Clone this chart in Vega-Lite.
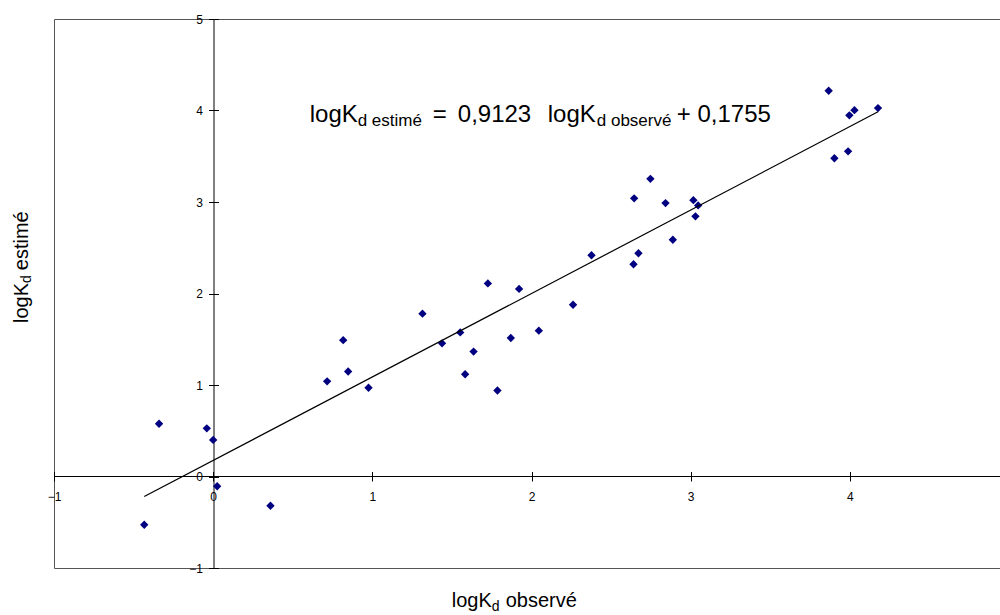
{
  "$schema": "https://vega.github.io/schema/vega-lite/v6.json",
  "width": 955,
  "height": 549,
  "autosize": {"type": "none"},
  "padding": {"left": 54, "top": 19, "right": 0, "bottom": 47},
  "background": "white",
  "config": {
    "view": {"stroke": "#555555", "strokeWidth": 1},
    "font": "Liberation Sans",
    "axis": {"grid": false, "title": null, "labelFont": "Liberation Sans", "labelFontSize": 12, "labelColor": "#000000", "domainColor": "#000000", "tickColor": "#000000", "labelFlush": false, "labelOverlap": false}
  },
  "datasets": {
    "points": [
      {"obs": -0.433, "est": -0.527}, {"obs": -0.34, "est": 0.577}, {"obs": -0.04, "est": 0.526}, {"obs": 0.0, "est": 0.40},
      {"obs": 0.025, "est": -0.106}, {"obs": 0.36, "est": -0.32}, {"obs": 0.716, "est": 1.04}, {"obs": 0.817, "est": 1.49},
      {"obs": 0.848, "est": 1.147}, {"obs": 0.976, "est": 0.97}, {"obs": 1.315, "est": 1.78}, {"obs": 1.438, "est": 1.455},
      {"obs": 1.552, "est": 1.575}, {"obs": 1.636, "est": 1.365}, {"obs": 1.583, "est": 1.118}, {"obs": 1.726, "est": 2.11},
      {"obs": 1.786, "est": 0.94}, {"obs": 1.922, "est": 2.05}, {"obs": 1.87, "est": 1.514}, {"obs": 2.046, "est": 1.594},
      {"obs": 2.261, "est": 1.877}, {"obs": 2.377, "est": 2.418}, {"obs": 2.645, "est": 3.04}, {"obs": 2.747, "est": 3.253},
      {"obs": 2.842, "est": 2.988}, {"obs": 3.017, "est": 3.02}, {"obs": 3.047, "est": 2.963}, {"obs": 3.03, "est": 2.843},
      {"obs": 2.888, "est": 2.588}, {"obs": 2.672, "est": 2.44}, {"obs": 2.641, "est": 2.32}, {"obs": 3.867, "est": 4.216},
      {"obs": 3.997, "est": 3.947}, {"obs": 4.029, "est": 4.004}, {"obs": 4.177, "est": 4.026}, {"obs": 3.989, "est": 3.554},
      {"obs": 3.903, "est": 3.478}
    ],
    "fit": [{"obs": -0.433, "est": -0.2195}, {"obs": 4.177, "est": 3.986}],
    "eqMain": [
      {"obs": 0.607, "est": 3.875, "t": "logK"},
      {"obs": 1.38, "est": 3.875, "t": "="},
      {"obs": 1.537, "est": 3.875, "t": "0,9123"},
      {"obs": 2.102, "est": 3.875, "t": "logK"},
      {"obs": 2.913, "est": 3.875, "t": "+ 0,1755"}
    ],
    "eqSub": [
      {"obs": 0.908, "est": 3.834, "t": "d estimé"},
      {"obs": 2.410, "est": 3.834, "t": "d observé"}
    ],
    "xTitleMain": [
      {"obs": 1.499, "est": -1.4255, "t": "logK"},
      {"obs": 1.838, "est": -1.4255, "t": "observé"}
    ],
    "xTitleSub": [{"obs": 1.750, "est": -1.469, "t": "d"}],
    "yTitleMain": [
      {"obs": -1.164, "est": 1.677, "t": "logK"},
      {"obs": -1.164, "est": 2.255, "t": "estimé"}
    ],
    "yTitleSub": [{"obs": -1.145, "est": 2.114, "t": "d"}]
  },
  "layer": [
    {
      "data": {"name": "points"},
      "mark": {"type": "point", "shape": "diamond", "filled": true, "color": "#000080", "size": 70, "opacity": 1},
      "encoding": {
        "x": {"field": "obs", "type": "quantitative", "scale": {"domain": [-1, 5], "nice": false, "zero": false},
              "axis": {"orient": "bottom", "offset": -92, "values": [-1, 0, 1, 2, 3, 4], "tickSize": 5, "labelPadding": 10}},
        "y": {"field": "est", "type": "quantitative", "scale": {"domain": [-1, 5], "nice": false, "zero": false},
              "axis": {"orient": "left", "offset": -159.5, "values": [-1, 0, 1, 2, 3, 4, 5], "tickSize": 5, "labelPadding": 6}}
      }
    },
    {
      "data": {"name": "fit"},
      "mark": {"type": "line", "color": "#000000", "strokeWidth": 1.2},
      "encoding": {
        "x": {"field": "obs", "type": "quantitative",
              "axis": {"orient": "top", "offset": -457.5, "values": [-1, 0, 1, 2, 3, 4], "tickSize": 5, "labels": false, "domain": false}},
        "y": {"field": "est", "type": "quantitative",
              "axis": {"orient": "right", "offset": -795.5, "values": [-1, 0, 1, 2, 3, 4, 5], "tickSize": 5, "labels": false, "domain": false}}
      }
    },
    {
      "data": {"name": "eqMain"},
      "mark": {"type": "text", "align": "left", "baseline": "alphabetic", "fontSize": 24, "font": "Liberation Sans", "color": "#000000"},
      "encoding": {
        "x": {"field": "obs", "type": "quantitative", "axis": null},
        "y": {"field": "est", "type": "quantitative", "axis": null},
        "text": {"field": "t"}
      }
    },
    {
      "data": {"name": "eqSub"},
      "mark": {"type": "text", "align": "left", "baseline": "alphabetic", "fontSize": 17, "font": "Liberation Sans", "color": "#000000"},
      "encoding": {
        "x": {"field": "obs", "type": "quantitative", "axis": null},
        "y": {"field": "est", "type": "quantitative", "axis": null},
        "text": {"field": "t"}
      }
    },
    {
      "data": {"name": "xTitleMain"},
      "mark": {"type": "text", "align": "left", "baseline": "alphabetic", "fontSize": 20, "font": "Liberation Sans", "color": "#000000"},
      "encoding": {
        "x": {"field": "obs", "type": "quantitative", "axis": null},
        "y": {"field": "est", "type": "quantitative", "axis": null},
        "text": {"field": "t"}
      }
    },
    {
      "data": {"name": "xTitleSub"},
      "mark": {"type": "text", "align": "left", "baseline": "alphabetic", "fontSize": 14, "font": "Liberation Sans", "color": "#000000"},
      "encoding": {
        "x": {"field": "obs", "type": "quantitative", "axis": null},
        "y": {"field": "est", "type": "quantitative", "axis": null},
        "text": {"field": "t"}
      }
    },
    {
      "data": {"name": "yTitleMain"},
      "mark": {"type": "text", "align": "left", "baseline": "alphabetic", "angle": 270, "fontSize": 20, "font": "Liberation Sans", "color": "#000000"},
      "encoding": {
        "x": {"field": "obs", "type": "quantitative", "axis": null},
        "y": {"field": "est", "type": "quantitative", "axis": null},
        "text": {"field": "t"}
      }
    },
    {
      "data": {"name": "yTitleSub"},
      "mark": {"type": "text", "align": "left", "baseline": "alphabetic", "angle": 270, "fontSize": 14, "font": "Liberation Sans", "color": "#000000"},
      "encoding": {
        "x": {"field": "obs", "type": "quantitative", "axis": null},
        "y": {"field": "est", "type": "quantitative", "axis": null},
        "text": {"field": "t"}
      }
    }
  ],
  "resolve": {"axis": {"x": "independent", "y": "independent"}}
}
